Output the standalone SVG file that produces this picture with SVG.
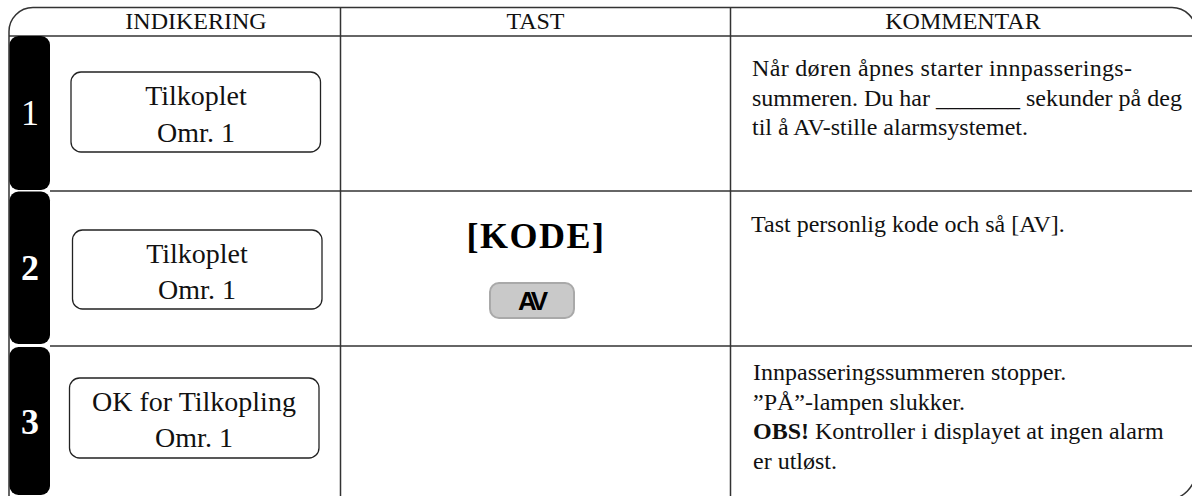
<svg xmlns="http://www.w3.org/2000/svg" width="1192" height="496" viewBox="0 0 1192 496">
<style>
.grid{fill:none;stroke:#333;stroke-width:1.5}
.tab{fill:#000}
.num{font-family:"Liberation Serif","Times New Roman",serif;font-size:36px;fill:#fff;text-anchor:middle}
.hdr{font-family:"Liberation Serif","Times New Roman",serif;font-size:24px;fill:#111;text-anchor:middle}
.box{fill:#fff;stroke:#222;stroke-width:1.3}
.disp{font-family:"Liberation Serif","Times New Roman",serif;font-size:28px;fill:#111;text-anchor:middle}
.cmt{font-family:"Liberation Serif","Times New Roman",serif;font-size:24px;fill:#111}
.key{font-family:"Liberation Serif","Times New Roman",serif;font-size:36px;font-weight:bold;fill:#000;text-anchor:middle;letter-spacing:1.5px}
.btn{fill:#c9c9c9;stroke:#a9a9a9;stroke-width:2}
.btnt{font-family:"Liberation Sans",Arial,sans-serif;font-size:26px;font-weight:bold;fill:#000;text-anchor:middle;letter-spacing:-4px}
</style>
<g id="connectors">
<path class="grid" d="M9,510 V32 A24,24 0 0 1 33,7.5 H1172 A24,24 0 0 1 1196,31 V470 A30,30 0 0 1 1166,500"/>
<line class="grid" x1="9" y1="36" x2="1196" y2="36"/>
<line class="grid" x1="50" y1="191" x2="1196" y2="191"/>
<line class="grid" x1="50" y1="346" x2="1196" y2="346"/>
<line class="grid" x1="340.5" y1="8" x2="340.5" y2="496"/>
<line class="grid" x1="730.5" y1="8" x2="730.5" y2="496"/>
</g>
<g id="header">
<text class="hdr" x="196" y="29">INDIKERING</text>
<text class="hdr" x="535.5" y="29">TAST</text>
<text class="hdr" x="963" y="29">KOMMENTAR</text>
</g>
<g id="row1">
<rect class="tab" x="9.5" y="36" width="40.5" height="154" rx="9"/>
<text class="num" x="30" y="125">1</text>
<rect class="box" x="71" y="72" width="249.5" height="80" rx="10"/>
<text class="disp" x="196" y="105">Tilkoplet</text>
<text class="disp" x="196" y="141.5">Omr. 1</text>
<text class="cmt" x="752" y="76" textLength="380" lengthAdjust="spacing">Når døren åpnes starter innpasserings-</text>
<text class="cmt" x="752" y="105.5">summeren. Du har _______ sekunder på deg</text>
<text class="cmt" x="752" y="135">til å AV-stille alarmsystemet.</text>
</g>
<g id="row2">
<rect class="tab" x="9.5" y="191.5" width="40.5" height="152.5" rx="9"/>
<text class="num" x="30" y="280" font-weight="bold">2</text>
<rect class="box" x="72.5" y="230" width="249.5" height="79" rx="10"/>
<text class="disp" x="197" y="262.5">Tilkoplet</text>
<text class="disp" x="197" y="299">Omr. 1</text>
<text class="key" x="536" y="248">[KODE]</text>
<rect class="btn" x="490" y="283" width="84" height="35" rx="9"/>
<text class="btnt" x="531" y="310">AV</text>
<text class="cmt" x="751" y="232">Tast personlig kode och så [AV].</text>
</g>
<g id="row3">
<rect class="tab" x="9.5" y="347" width="40.5" height="148" rx="9"/>
<text class="num" x="30" y="434" font-weight="bold">3</text>
<rect class="box" x="69.5" y="378" width="249.5" height="80" rx="10"/>
<text class="disp" x="194" y="411">OK for Tilkopling</text>
<text class="disp" x="194" y="447">Omr. 1</text>
<text class="cmt" x="753" y="380">Innpasseringssummeren  stopper.</text>
<text class="cmt" x="753" y="409.5">”PÅ”-lampen slukker.</text>
<text class="cmt" x="753" y="439"><tspan font-weight="bold">OBS!</tspan> Kontroller i displayet at ingen alarm</text>
<text class="cmt" x="753" y="468.5">er utløst.</text>
</g>
</svg>
